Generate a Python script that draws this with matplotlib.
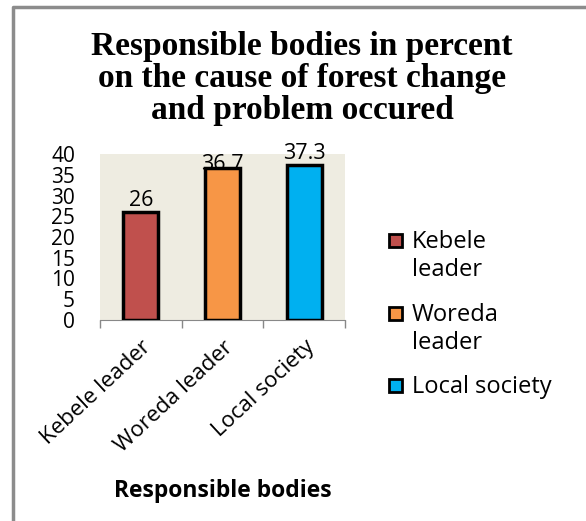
import matplotlib.pyplot as plt
from matplotlib.lines import Line2D
from matplotlib.patches import Rectangle

# Dados
categorias = ['Kebele leader', 'Woreda leader', 'Local society']
legenda = ['Kebele\nleader', 'Woreda\nleader', 'Local society']
percentuais = [26, 36.7, 37.3]
cores = ['#C0504D', '#F79646', '#00B0F0']

plt.rcParams['font.family'] = ['Open Sans', 'DejaVu Sans']

W, H = 586, 521
fig = plt.figure(figsize=(W / 100, H / 100), dpi=100)
fig.patch.set_facecolor('white')

# Moldura do gráfico (esquerda e topo)
fig.add_artist(Line2D([13 / W, 13 / W, 1.0], [0.0, 1 - 7 / H, 1 - 7 / H],
                      color='#8c8c8c', lw=2.5, transform=fig.transFigure))

ax = fig.add_axes([100 / W, 1 - 320 / H, 245 / W, 166 / H])
ax.set_facecolor('#EEECE1')

pos = list(range(len(categorias)))
barras = ax.bar(pos, percentuais, width=0.43, color=cores, edgecolor='black', linewidth=2.5, zorder=3)
rotulos = ax.bar_label(barras, labels=[f'{v:g}' for v in percentuais], padding=1, fontsize=15.5)
# rótulo do meio fica encostado no topo da barra
rotulos[1].xyann = (0, -5)

ax.set_xlim(-0.5, 2.5)
ax.set_ylim(0, 40)
ax.set_yticks(range(0, 41, 5))
ax.tick_params(axis='y', length=0, labelsize=15, pad=18)

ax.set_xticks(pos)
ax.set_xticklabels(categorias, rotation=43, ha='right', rotation_mode='anchor', fontsize=16)
ax.tick_params(axis='x', which='major', length=0, pad=12)
ax.set_xticks([-0.5, 0.5, 1.5, 2.5], minor=True)
ax.tick_params(axis='x', which='minor', length=6, color='#888888', width=1)

for lado in ['left', 'top', 'right']:
    ax.spines[lado].set_visible(False)
ax.spines['bottom'].set_color('#888888')

ax.set_xlabel('Responsible bodies', fontsize=16.5, fontweight='bold', labelpad=16)

fig.suptitle('Responsible bodies in percent\non the cause of forest change\nand problem occured',
             x=302 / W, y=1 - 31 / H, fontsize=24, fontweight='bold',
             family='Liberation Serif', linespacing=1.05)

# Legenda: marcador alinhado com a primeira linha de cada rótulo
leg_y = [240, 313, 385]
for cor, rotulo, y in zip(cores, legenda, leg_y):
    fig.add_artist(Rectangle((389 / W, 1 - (y + 7) / H), 13 / W, 13 / H,
                             facecolor=cor, edgecolor='black', linewidth=2,
                             transform=fig.transFigure))
    fig.text(412 / W, 1 - (y - 10) / H, rotulo, fontsize=17, va='top', ha='left',
             linespacing=1.2)

plt.savefig('out.png', dpi=100)
